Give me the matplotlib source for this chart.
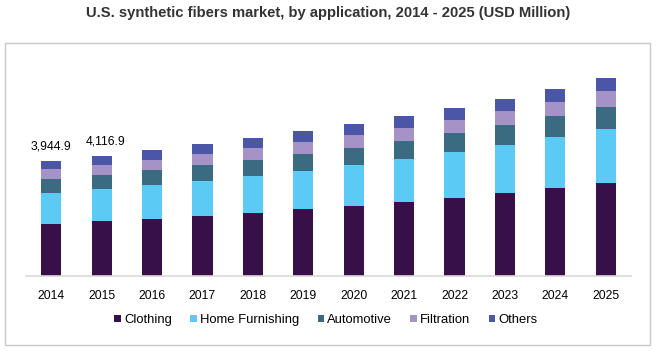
import matplotlib
matplotlib.use("Agg")
import matplotlib.pyplot as plt
from matplotlib.patches import Rectangle
import numpy as np

plt.rcParams['font.family'] = ['Liberation Sans', 'DejaVu Sans']

years = ["2014", "2015", "2016", "2017", "2018", "2019", "2020", "2021", "2022", "2023", "2024", "2025"]
clothing = [1784, 1887, 1955, 2058, 2161, 2298, 2401, 2538, 2675, 2847, 3018, 3190]
home_furnishing = [1063, 1098, 1166, 1201, 1269, 1303, 1406, 1475, 1578, 1646, 1749, 1852]
automotive = [480, 480, 515, 549, 549, 583, 583, 617, 652, 686, 720, 755]
filtration = [343, 343, 343, 377, 412, 412, 446, 446, 446, 480, 480, 549]
others = [274, 309, 343, 343, 343, 377, 377, 412, 412, 412, 446, 446]
series_names = ["Clothing", "Home Furnishing", "Automotive", "Filtration", "Others"]
label_years = ["2014", "2015"]
label_texts = ["3,944.9", "4,116.9"]

colors = ["#37104A", "#5BCBF5", "#3B6B80", "#A592C6", "#4B56A6"]

W, H = 656, 351
fig = plt.figure(figsize=(W / 100, H / 100), dpi=100)
ax = fig.add_axes([26 / W, (H - 276) / H, (631 - 26) / W, (276 - 43) / H])

x = np.arange(len(years))
series = [clothing, home_furnishing, automotive, filtration, others]
bottom = np.zeros(len(years))
for vals, name, c in zip(series, series_names, colors):
    ax.bar(x, vals, width=0.4, bottom=bottom, color=c, label=name, linewidth=0)
    bottom += np.array(vals)

ax.set_xlim(-0.5, len(years) - 0.5)
ax.set_ylim(0, 8000)
ax.set_yticks([])
ax.set_xticks(x)
ax.set_xticklabels(years, fontsize=8.7, color="#000000")
ax.tick_params(axis='x', length=0, pad=10)
for s in ["top", "right", "left"]:
    ax.spines[s].set_visible(False)
ax.spines["bottom"].set_color("#d9d9d9")
ax.spines["bottom"].set_linewidth(1.2)
ax.patch.set_alpha(0)

x_offsets = [0, 3]
for yr, txt, dx in zip(label_years, label_texts, x_offsets):
    i = years.index(yr)
    ax.annotate(txt, (i, bottom[i]), xytext=(dx, 6.5), textcoords="offset points",
                ha="center", va="bottom", fontsize=8.8, color="#000000")

fig.text(0.5, 1 - 13 / H, "U.S. synthetic fibers market, by application, 2014 - 2025 (USD Million)",
         ha="center", va="center", fontsize=10.6, fontweight="bold", color="#333333")

leg = fig.legend(loc="center", bbox_to_anchor=(326 / W, 1 - 320 / H), ncol=5, frameon=False,
                 fontsize=9.4, handlelength=0.5, handleheight=0.5, handletextpad=0.25,
                 columnspacing=1.4, borderpad=0)

fig.patches.append(Rectangle((5 / W, (H - 345) / H), 645 / W, 302 / H, transform=fig.transFigure,
                             fill=False, edgecolor="#c8c8c8", linewidth=1))

fig.savefig("out.png", dpi=100)
